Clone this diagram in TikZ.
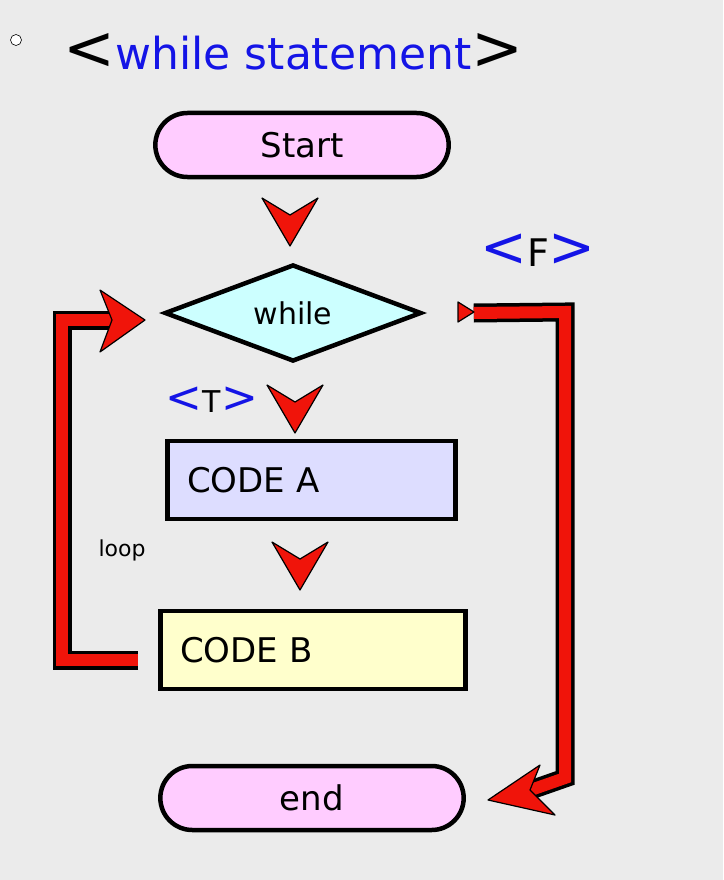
\documentclass[tikz,border=0pt]{standalone}
\usepackage{fontspec}
\setmainfont{DejaVu Sans}
\usetikzlibrary{shapes.geometric,shapes.misc,calc}
\definecolor{bg}{RGB}{235,235,235}
\definecolor{pinkf}{RGB}{255,204,255}
\definecolor{cyanf}{RGB}{204,255,255}
\definecolor{lavf}{RGB}{221,221,255}
\definecolor{yelf}{RGB}{255,255,204}
\definecolor{hred}{RGB}{240,20,10}
\definecolor{hblue}{RGB}{20,20,230}
\begin{document}
\begin{tikzpicture}[x=1pt,y=-1pt,
  box/.style={draw=black,line width=4.5pt,font=\fontsize{34}{36}\selectfont},
  term/.style={box,rounded rectangle,minimum width=300pt,minimum height=64pt,fill=pinkf},
  rect/.style={box,rectangle,minimum height=78pt,text width=#1,align=left,inner xsep=20pt},
  lbl/.style={font=\fontsize{38}{40}\selectfont},
  chev/.style={fill=hred,draw=black,line width=1.2pt,line join=round},
  pipeo/.style={draw=black,line width=19pt},
  pipei/.style={draw=hred,line width=12pt}]
\useasboundingbox[fill=bg] (0,0) rectangle (723,880);
\node[draw,circle,inner sep=0pt,minimum size=11pt,line width=0.6pt,fill=white] (dot) at (16,40) {};
\node[font=\fontsize{44}{46}\selectfont,anchor=west] (title) at (60,52) {{\fontsize{62}{62}\selectfont<}\textcolor{hblue}{while statement}{\fontsize{62}{62}\selectfont>}};
\node[term] (start) at (302,145) {Start};
\node[box,diamond,aspect=2.6,fill=cyanf,minimum width=257pt,minimum height=97pt,inner sep=0pt,font=\fontsize{30}{32}\selectfont] (wh) at (293,313) {while};
\node[rect=248pt,fill=lavf,anchor=west] (ca) at (165,480) {CODE A};
\node[rect=265pt,fill=yelf,anchor=west] (cb) at (158,650) {CODE B};
\node[term,minimum width=310pt] (en) at (312,798) {end};
\node[lbl,text=hblue] (F) at (538,250) {{\fontsize{56}{56}\selectfont<}\textcolor{black}{F}{\fontsize{56}{56}\selectfont>}};
\node[lbl,text=hblue,font=\fontsize{30}{30}\selectfont] (T) at (212,400) {{\fontsize{44}{44}\selectfont<}\textcolor{black}{T}{\fontsize{44}{44}\selectfont>}};
\node[font=\fontsize{22}{24}\selectfont] (loop) at (122,550) {loop};
\foreach \x/\y in {290/198, 295/385, 300/542}{
  \draw[chev] (\x-28,\y) -- (\x,\y+17) -- (\x+28,\y) -- (\x,\y+48) -- cycle;}
\coordinate (r1) at ($(wh.east)+(50,0)$);
\coordinate (r2) at (565,312);
\coordinate (r3) at (565,778);
\coordinate (r4) at (525,792);
\draw[pipeo] (r1) -- (r2) -- (r3) -- (r4);
\draw[pipei] (r1) -- (r2) -- (r3) -- (r4);
\draw[chev] (488,800) -- (540,765) -- (530,790) -- (555,815) -- cycle;
\draw[chev] (458,302) -- (474,312) -- (458,322) -- cycle;
\coordinate (l1) at ($(cb.west)+(-20,10)$);
\coordinate (l2) at (62,660);
\coordinate (l3) at (62,320);
\coordinate (l4) at (115,320);
\draw[pipeo] (l1) -- (l2) -- (l3) -- (l4);
\draw[pipei] (l1) -- (l2) -- (l3) -- (l4);
\draw[chev] (145,320) -- (100,290) -- (112,320) -- (100,352) -- cycle;
\end{tikzpicture}
\end{document}
